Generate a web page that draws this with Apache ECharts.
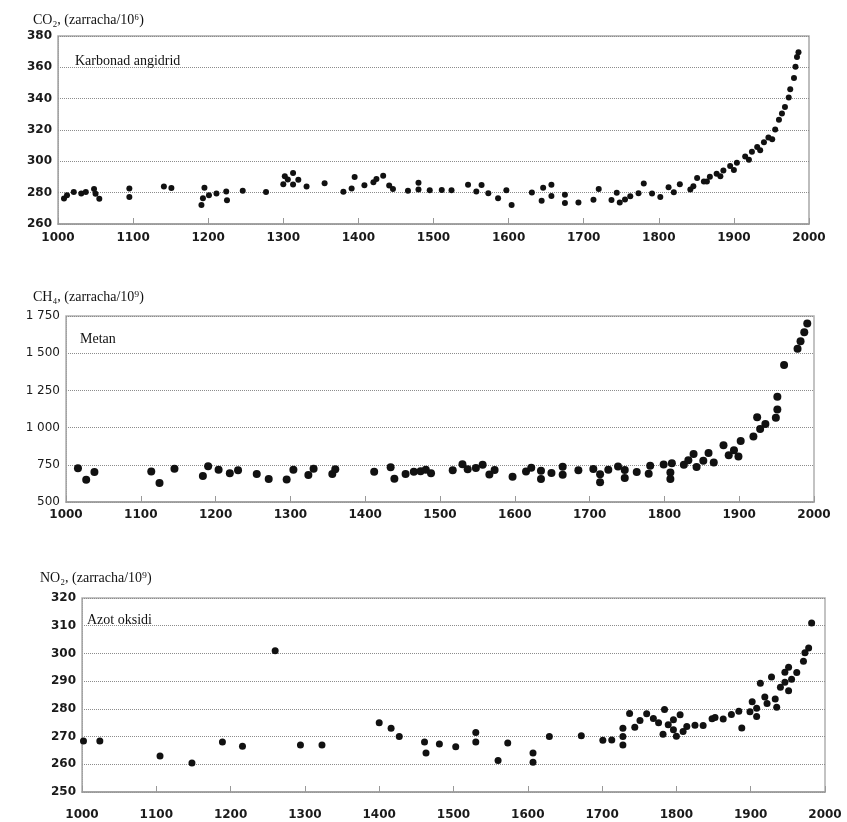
<!DOCTYPE html>
<html>
<head>
<meta charset="utf-8">
<script src="https://cdn.jsdelivr.net/npm/echarts@6/dist/echarts.min.js"></script>
<style>
  html, body { margin: 0; background: #fff; }
  #chart { width: 847px; height: 822px; }
</style>
</head>
<body>
<div id="chart"></div>
<script>
// CO2, ppm (year, value)
const co2Data = [
  [1008, 276.3], [1012, 278.4], [1021, 280.5], [1031, 279.4], [1037, 280.4], [1048, 282.4],
  [1050, 279.3], [1055, 276.1], [1095, 282.6], [1095, 277.3], [1141, 284], [1151, 282.9],
  [1191, 272.2], [1193, 276.4], [1195, 283.2], [1201, 278.4], [1211, 279.5], [1224, 280.8],
  [1225, 275.2], [1246, 281.3], [1277, 280.5], [1300, 285.3], [1302, 290.5], [1306, 288.4],
  [1313, 292.6], [1313, 285.2], [1320, 288.3], [1331, 284], [1355, 286], [1380, 280.6],
  [1391, 282.7], [1395, 290], [1408, 284.7], [1420, 286.7], [1424, 288.8], [1433, 290.8],
  [1441, 284.5], [1446, 282.4], [1466, 281.2], [1480, 286.4], [1480, 282], [1495, 281.5],
  [1511, 281.7], [1524, 281.6], [1546, 285.1], [1557, 280.8], [1564, 284.9], [1573, 279.6],
  [1586, 276.4], [1597, 281.5], [1604, 272.1], [1631, 280.1], [1644, 274.8], [1646, 283.1],
  [1657, 285], [1657, 277.8], [1675, 278.6], [1675, 273.4], [1693, 273.7], [1713, 275.5],
  [1720, 282.3], [1737, 275.3], [1744, 280], [1748, 273.7], [1755, 275.7], [1762, 277.7],
  [1773, 279.7], [1780, 285.8], [1791, 279.5], [1802, 277.3], [1813, 283.4], [1820, 280.3],
  [1828, 285.4], [1842, 282.1], [1846, 284.1], [1851, 289.3], [1860, 287.1], [1864, 287.1],
  [1868, 290.1], [1877, 292.1], [1882, 290.4], [1886, 294.1], [1895, 297.1], [1900, 294.4],
  [1904, 299.1], [1915, 303.1], [1920, 301], [1924, 306.1], [1931, 309.2], [1935, 307],
  [1940, 312.2], [1946, 315.2], [1951, 314.1], [1955, 320.3], [1960, 326.5], [1964, 330.6],
  [1968, 334.7], [1973, 340.8], [1975, 346], [1980, 353.2], [1982, 360.4], [1984, 366.6],
  [1986, 369.7]
];

// CH4, ppb (year, value)
const ch4Data = [
  [1016, 727], [1027, 650], [1038, 702], [1114, 705], [1125, 628], [1145, 723],
  [1183, 675], [1190, 740], [1204, 716], [1219, 693], [1230, 713], [1255, 689],
  [1271, 655], [1295, 652], [1304, 716], [1324, 681], [1331, 724], [1356, 688],
  [1360, 720], [1412, 704], [1434, 734], [1439, 657], [1454, 688], [1465, 704],
  [1474, 706], [1481, 717], [1488, 693], [1517, 713], [1530, 754], [1537, 720],
  [1548, 728], [1557, 750], [1566, 685], [1573, 715], [1597, 670], [1615, 705],
  [1622, 730], [1635, 710], [1635, 655], [1649, 695], [1664, 737], [1664, 683],
  [1685, 713], [1705, 722], [1714, 687], [1714, 633], [1725, 717], [1738, 739],
  [1747, 715], [1747, 661], [1763, 702], [1779, 690], [1781, 743], [1799, 752],
  [1808, 698], [1808, 655], [1810, 761], [1826, 750], [1832, 780], [1839, 822],
  [1843, 735], [1852, 778], [1859, 830], [1866, 766], [1879, 882], [1886, 815],
  [1893, 848], [1899, 805], [1902, 910], [1919, 940], [1924, 1070], [1928, 990],
  [1935, 1025], [1949, 1067], [1951, 1121], [1951, 1208], [1960, 1420], [1978, 1530],
  [1982, 1580], [1987, 1640], [1991, 1700]
];

// N2O ("NO2" in the original), ppb (year, value)
const no2Data = [
  [1002, 268.4], [1024, 268.4], [1105, 263], [1148, 260.5], [1189, 268], [1216, 266.5],
  [1260, 301], [1294, 267], [1323, 267], [1400, 275], [1416, 273], [1427, 270],
  [1461, 268], [1463, 264.1], [1481, 267.3], [1503, 266.3], [1530, 271.5], [1530, 268],
  [1560, 261.4], [1573, 267.7], [1607, 264.1], [1607, 260.7], [1629, 270], [1672, 270.3],
  [1701, 268.7], [1713, 268.8], [1728, 273], [1728, 270], [1728, 267], [1737, 278.3],
  [1744, 273.4], [1751, 275.8], [1760, 278.2], [1769, 276.5], [1776, 275], [1782, 270.8],
  [1784, 279.8], [1789, 274.3], [1796, 276.1], [1796, 272.5], [1800, 270.1], [1805, 277.9],
  [1809, 271.8], [1814, 273.6], [1825, 274.1], [1836, 274], [1848, 276.4], [1852, 276.9],
  [1863, 276.3], [1874, 278], [1884, 279.1], [1888, 273.1], [1899, 279], [1902, 282.6],
  [1908, 280.2], [1908, 277.2], [1913, 289.2], [1919, 284.3], [1922, 281.9], [1928, 291.5],
  [1933, 283.6], [1935, 280.6], [1940, 287.8], [1946, 289.6], [1946, 293.2], [1951, 286.5],
  [1951, 295], [1955, 290.7], [1962, 293.1], [1971, 297.2], [1973, 300.2], [1978, 302],
  [1982, 311]
];

// axis ranges [min, max, interval]
const yearRange = [1000, 2000, 100];
const co2Range = [260, 380, 20];
const ch4Range = [500, 1750, 250];
const no2Range = [250, 320, 10];

const titles = ['CO\u2082, (zarracha/10\u2076)', 'CH\u2084, (zarracha/10\u2079)', 'NO\u2082, (zarracha/10\u2079)'];
const innerLabels = ['Karbonad angidrid', 'Metan', 'Azot oksidi'];

let myChart = echarts.init(document.getElementById('chart'));

const serif = "'Liberation Serif', 'DejaVu Serif', serif";
const sans = "'DejaVu Sans', sans-serif";

function xAxisFor(i, margin) {
  return {
    type: 'value',
    gridIndex: i,
    min: yearRange[0],
    max: yearRange[1],
    interval: yearRange[2],
    axisLine: { show: true, lineStyle: { color: '#9a9a9a', width: 1.5 } },
    axisTick: { show: true, inside: true, length: 6, lineStyle: { color: '#999' } },
    splitLine: { show: false },
    axisLabel: {
      color: '#1a1a1a', fontFamily: sans, fontSize: 12, fontWeight: 'bold', margin: margin,
      formatter: (v) => String(v)
    }
  };
}

function yAxisFor(i, range, weight, fmt) {
  return {
    type: 'value',
    gridIndex: i,
    min: range[0],
    max: range[1],
    interval: range[2],
    axisLine: { show: true, lineStyle: { color: '#a0a0a0', type: 'dotted' } },
    axisTick: { show: false },
    splitLine: { show: true, lineStyle: { color: '#8c8c8c', type: 'dotted' } },
    axisLabel: { color: '#1a1a1a', fontFamily: sans, fontSize: 12, fontWeight: weight, margin: 6, formatter: fmt }
  };
}

function thousands(v) {
  if (v >= 1000) return Math.floor(v / 1000) + ' ' + String(v % 1000).padStart(3, '0');
  return String(v);
}

function textTitle(text, left, top, size) {
  return {
    text: text, left: left, top: top, padding: 0,
    textStyle: { fontFamily: serif, fontSize: size, fontWeight: 'normal', color: '#111' }
  };
}

function scatter(i, data, size) {
  return {
    type: 'scatter',
    xAxisIndex: i,
    yAxisIndex: i,
    data: data,
    symbol: 'circle',
    symbolSize: size,
    itemStyle: { color: '#111', opacity: 1 },
    silent: true
  };
}

myChart.setOption({
  backgroundColor: '#fff',
  animation: false,
  title: [
    textTitle(titles[0], 33, 13, 14),
    textTitle(innerLabels[0], 75, 54, 14),
    textTitle(titles[1], 33, 290, 14),
    textTitle(innerLabels[1], 80, 332, 14),
    textTitle(titles[2], 40, 571, 14),
    textTitle(innerLabels[2], 87, 613, 14)
  ],
  grid: [
    { left: 58, right: 38, top: 36, height: 188, show: true, borderColor: '#a8a8a8', borderWidth: 1.5 },
    { left: 66, right: 33, top: 316, height: 186, show: true, borderColor: '#b0b0b0', borderWidth: 1.5 },
    { left: 82, right: 22, top: 598, height: 194, show: true, borderColor: '#b0b0b0', borderWidth: 1.5 }
  ],
  xAxis: [xAxisFor(0, 8), xAxisFor(1, 7), xAxisFor(2, 17)],
  yAxis: [
    yAxisFor(0, co2Range, 'bold'),
    yAxisFor(1, ch4Range, 'normal', thousands),
    yAxisFor(2, no2Range, 'bold')
  ],
  series: [
    scatter(0, co2Data, 6),
    scatter(1, ch4Data, 8),
    scatter(2, no2Data, 7)
  ]
});
</script>
</body>
</html>
